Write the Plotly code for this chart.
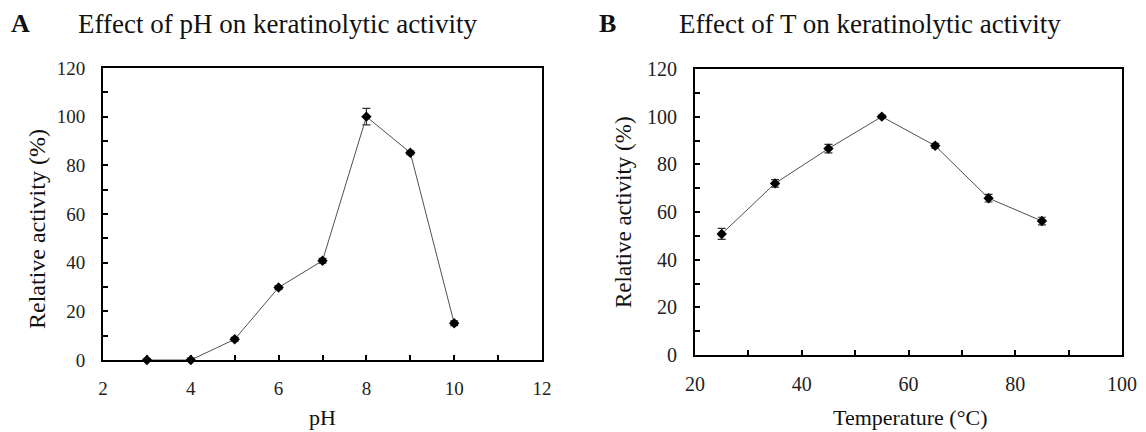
import plotly.graph_objects as go

ph = [3, 4, 5, 6, 7, 8, 9, 10]
ph_act = [0, 0, 8.5, 29.8, 40.8, 100, 85.2, 15.1]
ph_err = [0.5, 0.8, 0.8, 0.8, 1.0, 3.4, 0.8, 1.0]

temp = [25, 35, 45, 55, 65, 75, 85]
t_act = [50.8, 72.0, 86.6, 100, 87.8, 65.8, 56.2]
t_err = [2.3, 1.6, 1.8, 0.7, 1.0, 1.6, 1.6]

FONT = "Liberation Serif"
OFF = 8  # page body margin
W, H = 1146 - OFF, 432 - OFF


def px(x):
    return (x - OFF) / W


def py(y):
    return 1 - (y - OFF) / H


fig = go.Figure()

line = dict(color="#505050", width=1)
marker = dict(symbol="diamond", size=8, color="black")
fig.add_trace(go.Scatter(x=ph, y=ph_act, mode="lines+markers", line=line, marker=marker,
                         error_y=dict(type="data", array=ph_err, color="#333", thickness=1.2, width=4),
                         xaxis="x", yaxis="y", showlegend=False, cliponaxis=False))
fig.add_trace(go.Scatter(x=temp, y=t_act, mode="lines+markers", line=line, marker=marker,
                         error_y=dict(type="data", array=t_err, color="#333", thickness=1.2, width=4),
                         xaxis="x2", yaxis="y2", showlegend=False, cliponaxis=False))


def ax(size, **kw):
    d = dict(showline=True, linecolor="black", linewidth=2, mirror=True, showgrid=False,
             zeroline=False, ticks="inside", ticklen=5, tickcolor="black", tickwidth=1.5,
             automargin=False, tickfont=dict(family=FONT, size=size, color="#222"))
    d.update(kw)
    return d


fig.update_layout(
    width=W, height=H, margin=dict(l=0, r=0, t=0, b=0, autoexpand=False),
    paper_bgcolor="white", plot_bgcolor="white",
    xaxis=ax(19, domain=[px(103), px(542)], range=[2, 12], dtick=2, tick0=2, anchor="y",
             minor=dict(ticks="inside", dtick=1, ticklen=5, tickcolor="black", tickwidth=1.5),
             ticklabelstandoff=10),
    yaxis=ax(19, domain=[py(360), py(68)], range=[0, 120], dtick=20, anchor="x",
             minor=dict(ticks="inside", dtick=20, tick0=10, ticklen=5, tickcolor="black", tickwidth=1.5),
             ticklabelstandoff=12),
    xaxis2=ax(20, domain=[px(695), px(1122)], range=[20, 100], dtick=20, tick0=20, anchor="y2",
              minor=dict(ticks="inside", dtick=10, ticklen=5, tickcolor="black", tickwidth=1.5),
              ticklabelstandoff=10),
    yaxis2=ax(20, domain=[py(355), py(69)], range=[0, 120], dtick=20, anchor="x2",
              minor=dict(ticks="inside", dtick=20, tick0=10, ticklen=5, tickcolor="black", tickwidth=1.5),
              ticklabelstandoff=12),
)

titles = [
    dict(text="<b>A</b>", x=10, size=26),
    dict(text="Effect of pH on keratinolytic activity", x=77, size=27),
    dict(text="<b>B</b>", x=598, size=26),
    dict(text="Effect of T on keratinolytic activity", x=678, size=27),
]
for a in titles:
    fig.add_annotation(text=a["text"], xref="paper", yref="paper",
                       x=px(a["x"]), y=1, xanchor="left", yanchor="top", borderpad=0,
                       showarrow=False, font=dict(family=FONT, size=a["size"], color="#111"))

for text, x in [("pH", 322), ("Temperature (°C)", 910)]:
    fig.add_annotation(text=text, xref="paper", yref="paper",
                       x=px(x), y=py(417), xanchor="center", yanchor="middle",
                       showarrow=False, font=dict(family=FONT, size=22, color="#111"))

for x, y, s in [(37, 229, 24), (623, 212, 23)]:
    fig.add_annotation(text="Relative activity (%)", xref="paper", yref="paper",
                       x=px(x), y=py(y), xanchor="center", yanchor="middle", textangle=-90,
                       showarrow=False, font=dict(family=FONT, size=s, color="#111"))

fig.write_html("out.html")
